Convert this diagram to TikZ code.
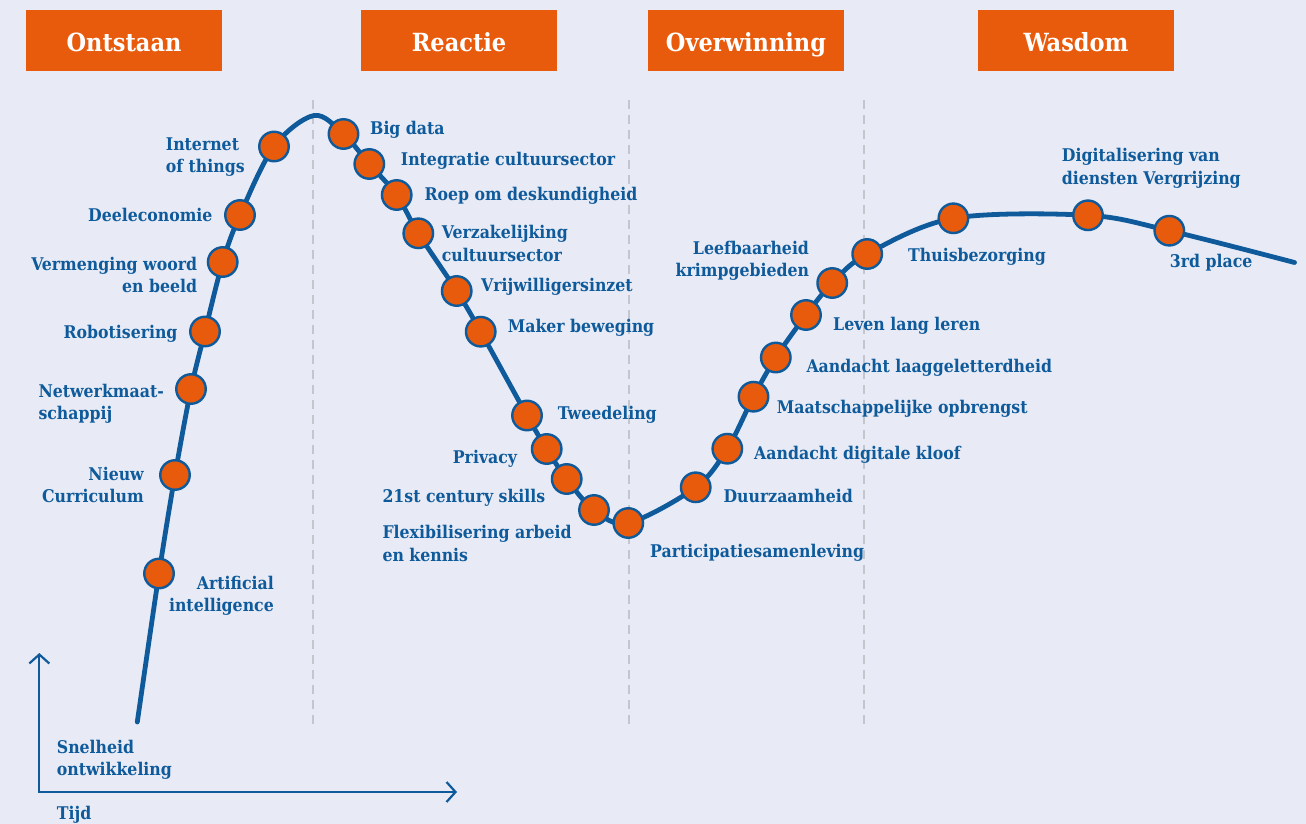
\documentclass[tikz,border=0pt]{standalone}
\usepackage{fontspec}
\setmainfont{DejaVu Serif Condensed}
\usetikzlibrary{arrows.meta}
\definecolor{bgc}{HTML}{E8EBF5}
\definecolor{orng}{HTML}{E95B0C}
\definecolor{blu}{HTML}{0E5A9B}
\definecolor{gry}{HTML}{C4C6CE}
\tikzset{
  dot/.style={circle, fill=orng, draw=blu, line width=2.4pt, minimum size=29.5pt, inner sep=0pt},
  curveline/.style={draw=blu, line width=4.8pt, line cap=round},
  lbl/.style={text=blu, font=\bfseries\fontsize{17.5}{22.5}\selectfont, inner sep=0pt},
  lblw/.style={lbl, anchor=base west, align=left},
  lble/.style={lbl, anchor=base east, align=right},
  hdr/.style={fill=orng, minimum width=196pt, minimum height=61pt, inner sep=0pt, text height=24pt, text depth=1.6pt, text=white, font=\bfseries\fontsize{25}{29}\selectfont},
  divider/.style={draw=gry, line width=2pt, dash pattern=on 9pt off 6pt},
  axisline/.style={draw=blu, line width=2.2pt, {Straight Barb[length=9pt,width=20pt,line width=2.2pt]}-{Straight Barb[length=9pt,width=20pt,line width=2.2pt]}}
}
\begin{document}
\begin{tikzpicture}[x=1pt,y=-1pt]
\fill[bgc] (0,0) rectangle (1306,824);
\useasboundingbox (0,0) rectangle (1306,824);
% headers
\node[hdr] (h1) at (124,40.5) {Ontstaan};
\node[hdr] (h2) at (459,40.5) {Reactie};
\node[hdr] (h3) at (746,40.5) {Overwinning};
\node[hdr] (h4) at (1076,40.5) {Wasdom};
% dividers
\coordinate (v1t) at (313,100); \coordinate (v1b) at (313,727);
\coordinate (v2t) at (628.5,100); \coordinate (v2b) at (628.5,727);
\coordinate (v3t) at (864,100); \coordinate (v3b) at (864,727);
\draw[divider] (v1t) -- (v1b);
\draw[divider] (v2t) -- (v2b);
\draw[divider] (v3t) -- (v3b);
% axes
\coordinate (ytop) at (39.3,653);
\coordinate (orig) at (39.3,792);
\coordinate (xend) at (457,792);
\draw[axisline] (ytop) -- (orig) -- (xend);
% curve points
\coordinate (s0) at (137.3,722);
\coordinate (pAI) at (159,573.5);
\coordinate (pNC) at (175,475);
\coordinate (pNW) at (191,389);
\coordinate (pRB) at (205,331.5);
\coordinate (pVW) at (222.7,262);
\coordinate (pDE) at (240,215);
\coordinate (pIT) at (274,146.5);
\coordinate (peak) at (314,115.5);
\coordinate (pBD) at (343.5,134);
\coordinate (pIC) at (369.3,164);
\coordinate (pRO) at (396.7,195);
\coordinate (pVZ) at (418.3,233.3);
\coordinate (pVR) at (456.7,291);
\coordinate (pMB) at (480.7,331.7);
\coordinate (pTW) at (527,415.5);
\coordinate (pPR) at (546.7,449);
\coordinate (pCS) at (566.7,479);
\coordinate (pFL) at (594,510);
\coordinate (pPA) at (628.3,523);
\coordinate (pDU) at (695.7,487.3);
\coordinate (pDK) at (727.3,448.7);
\coordinate (pMO) at (753.5,396.7);
\coordinate (pAL) at (775.8,357.5);
\coordinate (pLL) at (806,315);
\coordinate (pLB) at (832.2,283);
\coordinate (pTH) at (867.2,254);
\coordinate (pXX) at (953.4,218.3);
\coordinate (pDV) at (1088,215.3);
\coordinate (pTP) at (1169.3,230.7);
\coordinate (e0) at (1294.5,262.5);
\draw[curveline] plot[smooth, tension=0.55] coordinates {(s0) (pAI) (pNC) (pNW) (pRB) (pVW) (pDE) (pIT) (peak) (pBD) (pIC) (pRO) (pVZ) (pVR) (pMB) (pTW) (pPR) (pCS) (pFL) (pPA) (pDU) (pDK) (pMO) (pAL) (pLL) (pLB) (pTH) (pXX) (pDV) (pTP) (e0)};
% dots
\foreach \p in {AI,NC,NW,RB,VW,DE,IT,BD,IC,RO,VZ,VR,MB,TW,PR,CS,FL,PA,DU,DK,MO,AL,LL,LB,TH,XX,DV,TP}
  \node[dot] (d\p) at (p\p) {};
% labels left branch (multi-line nodes: y = baseline of last line)
\node[lblw] (tIT) at (165.7,172.7) {Internet\\of things};
\node[lble] (tDE) at (212.7,221.7) {Deeleconomie};
\node[lble] (tVW) at (197.3,292.7) {Vermenging woord\\en beeld};
\node[lble] (tRB) at (177.7,338.3) {Robotisering};
\node[lblw] (tNW) at (38.3,419.5) {Netwerkmaat-\\schappij};
\node[lble] (tNC) at (144,502.7) {Nieuw\\Curriculum};
\node[lble] (tAI) at (274,611.7) {Artificial\\intelligence};
% labels reactie
\node[lblw] (tBD) at (370,135) {Big data};
\node[lblw] (tIC) at (400.7,165) {Integratie cultuursector};
\node[lblw] (tRO) at (424.3,200) {Roep om deskundigheid};
\node[lblw] (tVZ) at (441.7,261) {Verzakelijking\\cultuursector};
\node[lblw] (tVR) at (481,291.7) {Vrijwilligersinzet};
\node[lblw] (tMB) at (507.7,332.7) {Maker beweging};
\node[lblw] (tTW) at (557.7,419.3) {Tweedeling};
\node[lble] (tPR) at (517.3,463.3) {Privacy};
\node[lblw] (tCS) at (382.3,502.7) {21st century skills};
\node[lblw] (tFL) at (382.3,561) {Flexibilisering arbeid\\en kennis};
% labels overwinning
\node[lblw] (tPA) at (650,557.7) {Participatiesamenleving};
\node[lblw] (tDU) at (723.3,502.7) {Duurzaamheid};
\node[lblw] (tDK) at (754,459.3) {Aandacht digitale kloof};
\node[lblw] (tMO) at (776.7,413) {Maatschappelijke opbrengst};
\node[lblw] (tAL) at (806.3,372.7) {Aandacht laaggeletterdheid};
\node[lblw] (tLL) at (833,330) {Leven lang leren};
\node[lble] (tLB) at (809.2,276.7) {Leefbaarheid\\krimpgebieden};
% labels wasdom
\node[lblw] (tTH) at (908,261.7) {Thuisbezorging};
\node[lblw] (tDV) at (1061.7,184.3) {Digitalisering van\\diensten Vergrijzing};
\node[lblw] (tTP) at (1169.7,267.3) {3rd place};
% axis labels
\node[lblw] (tSN) at (56.7,775.5) {Snelheid\\ontwikkeling};
\node[lblw] (tTI) at (56.7,819.5) {Tijd};
\end{tikzpicture}
\end{document}
